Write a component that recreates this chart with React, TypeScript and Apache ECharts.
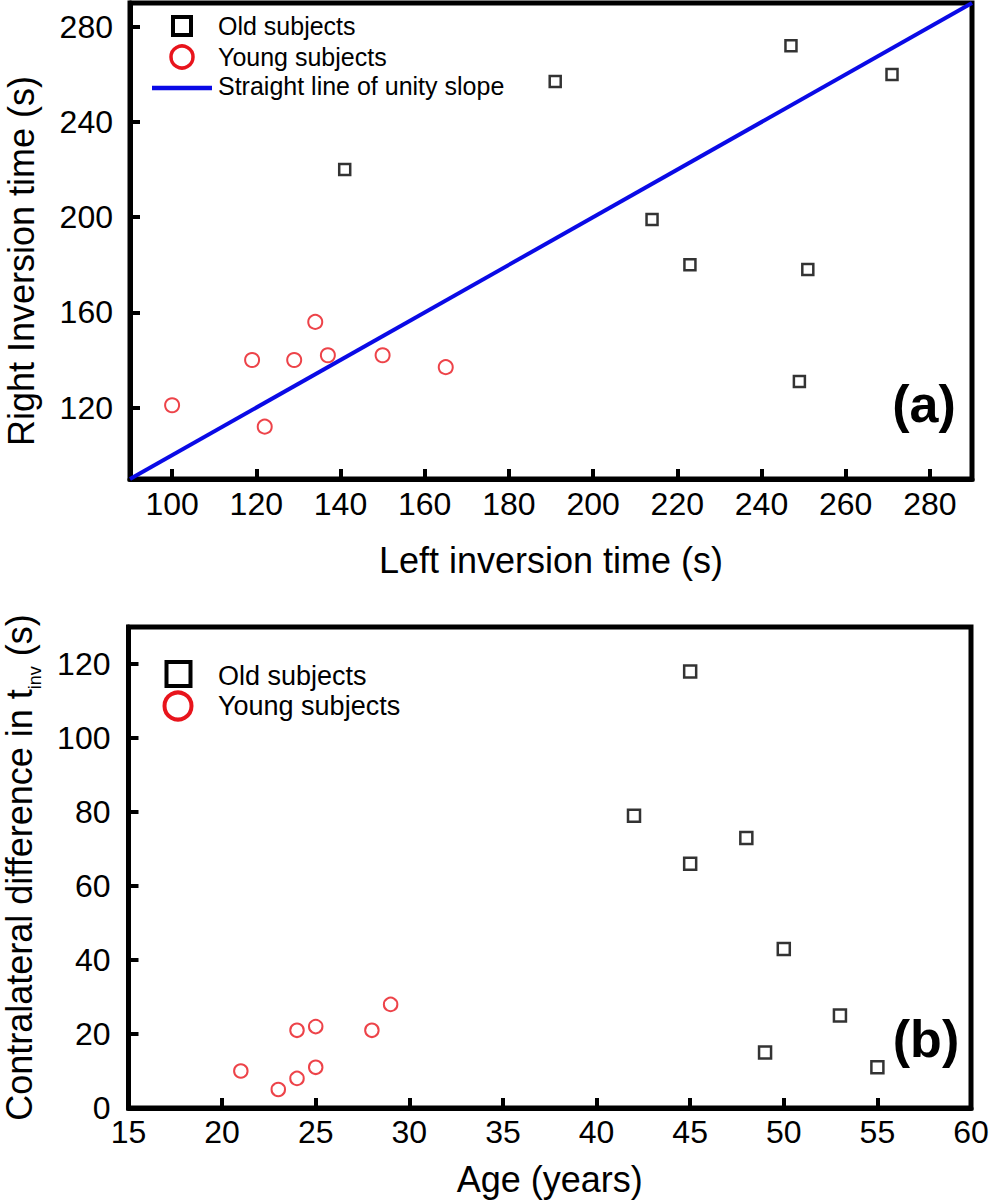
import React, { useEffect, useRef } from "react";
import * as echarts from "echarts";

// Panel (a): inversion times (s)
const leftOld = [141, 191, 247, 271, 214, 223, 251, 249];
const rightOld = [220, 257, 272, 260, 199, 180, 178, 131];
const leftYoung = [100, 122, 119, 129, 134, 137, 150, 165];
const rightYoung = [121, 112, 140, 140, 156, 142, 142, 137];
const unityLine = [90, 290];
const xTicksA = [100, 120, 140, 160, 180, 200, 220, 240, 260, 280];
const yTicksA = [120, 160, 200, 240, 280];

// Panel (b): contralateral difference vs age
const ageOld = [45, 42, 45, 48, 50, 53, 49, 55];
const diffOld = [118, 79, 66, 73, 43, 25, 15, 11];
const ageYoung = [21, 23, 24, 24, 25, 25, 28, 29];
const diffYoung = [10, 5, 8, 21, 22, 11, 21, 28];
const xTicksB = [15, 20, 25, 30, 35, 40, 45, 50, 55, 60];
const yTicksB = [0, 20, 40, 60, 80, 100, 120];

const legendLabels = ["Old subjects", "Young subjects", "Straight line of unity slope"];

const FONT = '"Liberation Sans", Arial, Helvetica, sans-serif';
const RED = "#e8141c";
const BLUE = "#0a0ae6";

function zip(a: number[], b: number[]) {
  return a.map((v, i) => [v, b[i]]);
}

function axisBase(ticks: number[], labelMargin: number) {
  return {
    type: "value" as const,
    axisLine: { show: true, onZero: false, lineStyle: { color: "#000", width: 5 } },
    axisTick: { show: true, inside: true, length: 10, lineStyle: { color: "#000", width: 4 }, customValues: ticks },
    axisLabel: { customValues: ticks, fontSize: 32, color: "#000", fontFamily: FONT, margin: labelMargin },
    splitLine: { show: false },
  };
}

export default function App() {
  const ref = useRef<HTMLDivElement>(null);
  useEffect(() => {
    if (!ref.current) return;
    const chart = echarts.init(ref.current, undefined, { renderer: "svg" });
    const nameStyle = { fontSize: 36, color: "#000", fontFamily: FONT };
    const option: any = {
      animation: false,
      backgroundColor: "#fff",
      grid: [
        { left: 130, top: 3, width: 842, height: 476, outerBoundsMode: "none", containLabel: false, show: true, borderColor: "#000", borderWidth: 5, backgroundColor: "transparent" },
        { left: 128.5, top: 627, width: 842.5, height: 481, outerBoundsMode: "none", containLabel: false, show: true, borderColor: "#000", borderWidth: 5, backgroundColor: "transparent" },
      ],
      xAxis: [
        {
          ...axisBase(xTicksA, 9),
          gridIndex: 0, min: 90, max: 290,
          name: "Left inversion time (s)", nameLocation: "middle", nameGap: 63, nameTextStyle: nameStyle,
        },
        {
          ...axisBase(xTicksB, 8),
          gridIndex: 1, min: 15, max: 60,
          name: "Age (years)", nameLocation: "middle", nameGap: 53, nameTextStyle: nameStyle,
        },
      ],
      yAxis: [
        {
          ...axisBase(yTicksA, 17),
          gridIndex: 0, min: 90, max: 290,
          name: "Right Inversion time (s)", nameLocation: "middle", nameGap: 91, nameRotate: 90,
          nameTextStyle: { ...nameStyle, lineHeight: 36, padding: [0, 40, 0, 0] },
        },
        {
          ...axisBase(yTicksB, 18),
          gridIndex: 1, min: 0, max: 130,
          name: "Contralateral difference in t{sub|inv} (s)", nameLocation: "middle", nameGap: 84.5, nameRotate: 90,
          nameTextStyle: {
            ...nameStyle,
            lineHeight: 50,
            rich: {
              sub: { fontSize: 18, color: "#000", fontFamily: FONT, verticalAlign: "bottom", lineHeight: 10 },
            },
          },
        },
      ],
      series: [
        {
          name: legendLabels[2], type: "line", xAxisIndex: 0, yAxisIndex: 0,
          data: zip(unityLine, unityLine), symbol: "none", lineStyle: { color: BLUE, width: 4 }, z: 2,
        },
        {
          name: legendLabels[0], type: "scatter", xAxisIndex: 0, yAxisIndex: 0, data: zip(leftOld, rightOld),
          symbol: "rect", symbolSize: 11, itemStyle: { color: "rgba(255,255,255,0)", borderColor: "#000", borderWidth: 2.5 }, z: 3,
        },
        {
          name: legendLabels[1], type: "scatter", xAxisIndex: 0, yAxisIndex: 0, data: zip(leftYoung, rightYoung),
          symbol: "circle", symbolSize: 14, itemStyle: { color: "rgba(255,255,255,0)", borderColor: RED, borderWidth: 2 }, z: 3,
        },
        {
          name: legendLabels[0], type: "scatter", xAxisIndex: 1, yAxisIndex: 1, data: zip(ageOld, diffOld),
          symbol: "rect", symbolSize: 12, itemStyle: { color: "rgba(255,255,255,0)", borderColor: "#000", borderWidth: 2.5 }, z: 3,
        },
        {
          name: legendLabels[1], type: "scatter", xAxisIndex: 1, yAxisIndex: 1, data: zip(ageYoung, diffYoung),
          symbol: "circle", symbolSize: 13.5, itemStyle: { color: "rgba(255,255,255,0)", borderColor: RED, borderWidth: 2 }, z: 3,
        },
      ],
      graphic: [
        // legend (a)
        { type: "rect", shape: { x: 173, y: 17, width: 18, height: 18 }, style: { fill: "none", stroke: "#000", lineWidth: 4 } },
        { type: "circle", shape: { cx: 182, cy: 57, r: 11 }, style: { fill: "none", stroke: RED, lineWidth: 3.5 } },
        { type: "line", shape: { x1: 152, y1: 88, x2: 212, y2: 88 }, style: { stroke: BLUE, lineWidth: 4.5 } },
        { type: "text", x: 218, y: 26, style: { text: legendLabels[0], fontSize: 25, fontFamily: FONT, fill: "#000", verticalAlign: "middle" } },
        { type: "text", x: 218, y: 57, style: { text: legendLabels[1], fontSize: 25, fontFamily: FONT, fill: "#000", verticalAlign: "middle" } },
        { type: "text", x: 218, y: 86, style: { text: legendLabels[2], fontSize: 25, fontFamily: FONT, fill: "#000", verticalAlign: "middle" } },
        { type: "text", x: 924, y: 404, style: { text: "(a)", fontSize: 52, fontWeight: "bold", fontFamily: FONT, fill: "#000", align: "center", verticalAlign: "middle" } },
        // legend (b)
        { type: "rect", shape: { x: 166.5, y: 662, width: 24, height: 24 }, style: { fill: "none", stroke: "#000", lineWidth: 4 } },
        { type: "circle", shape: { cx: 178, cy: 706, r: 13.5 }, style: { fill: "none", stroke: RED, lineWidth: 4 } },
        { type: "text", x: 218, y: 676, style: { text: legendLabels[0], fontSize: 27, fontFamily: FONT, fill: "#000", verticalAlign: "middle" } },
        { type: "text", x: 218, y: 706, style: { text: legendLabels[1], fontSize: 27, fontFamily: FONT, fill: "#000", verticalAlign: "middle" } },
        { type: "text", x: 926, y: 1039, style: { text: "(b)", fontSize: 52, fontWeight: "bold", fontFamily: FONT, fill: "#000", align: "center", verticalAlign: "middle" } },
      ],
    };
    chart.setOption(option);
    return () => chart.dispose();
  }, []);
  return (
    <div
      ref={ref}
      style={{ position: "absolute", left: 0, top: 0, width: 989, height: 1200, background: "#fff" }}
    />
  );
}
